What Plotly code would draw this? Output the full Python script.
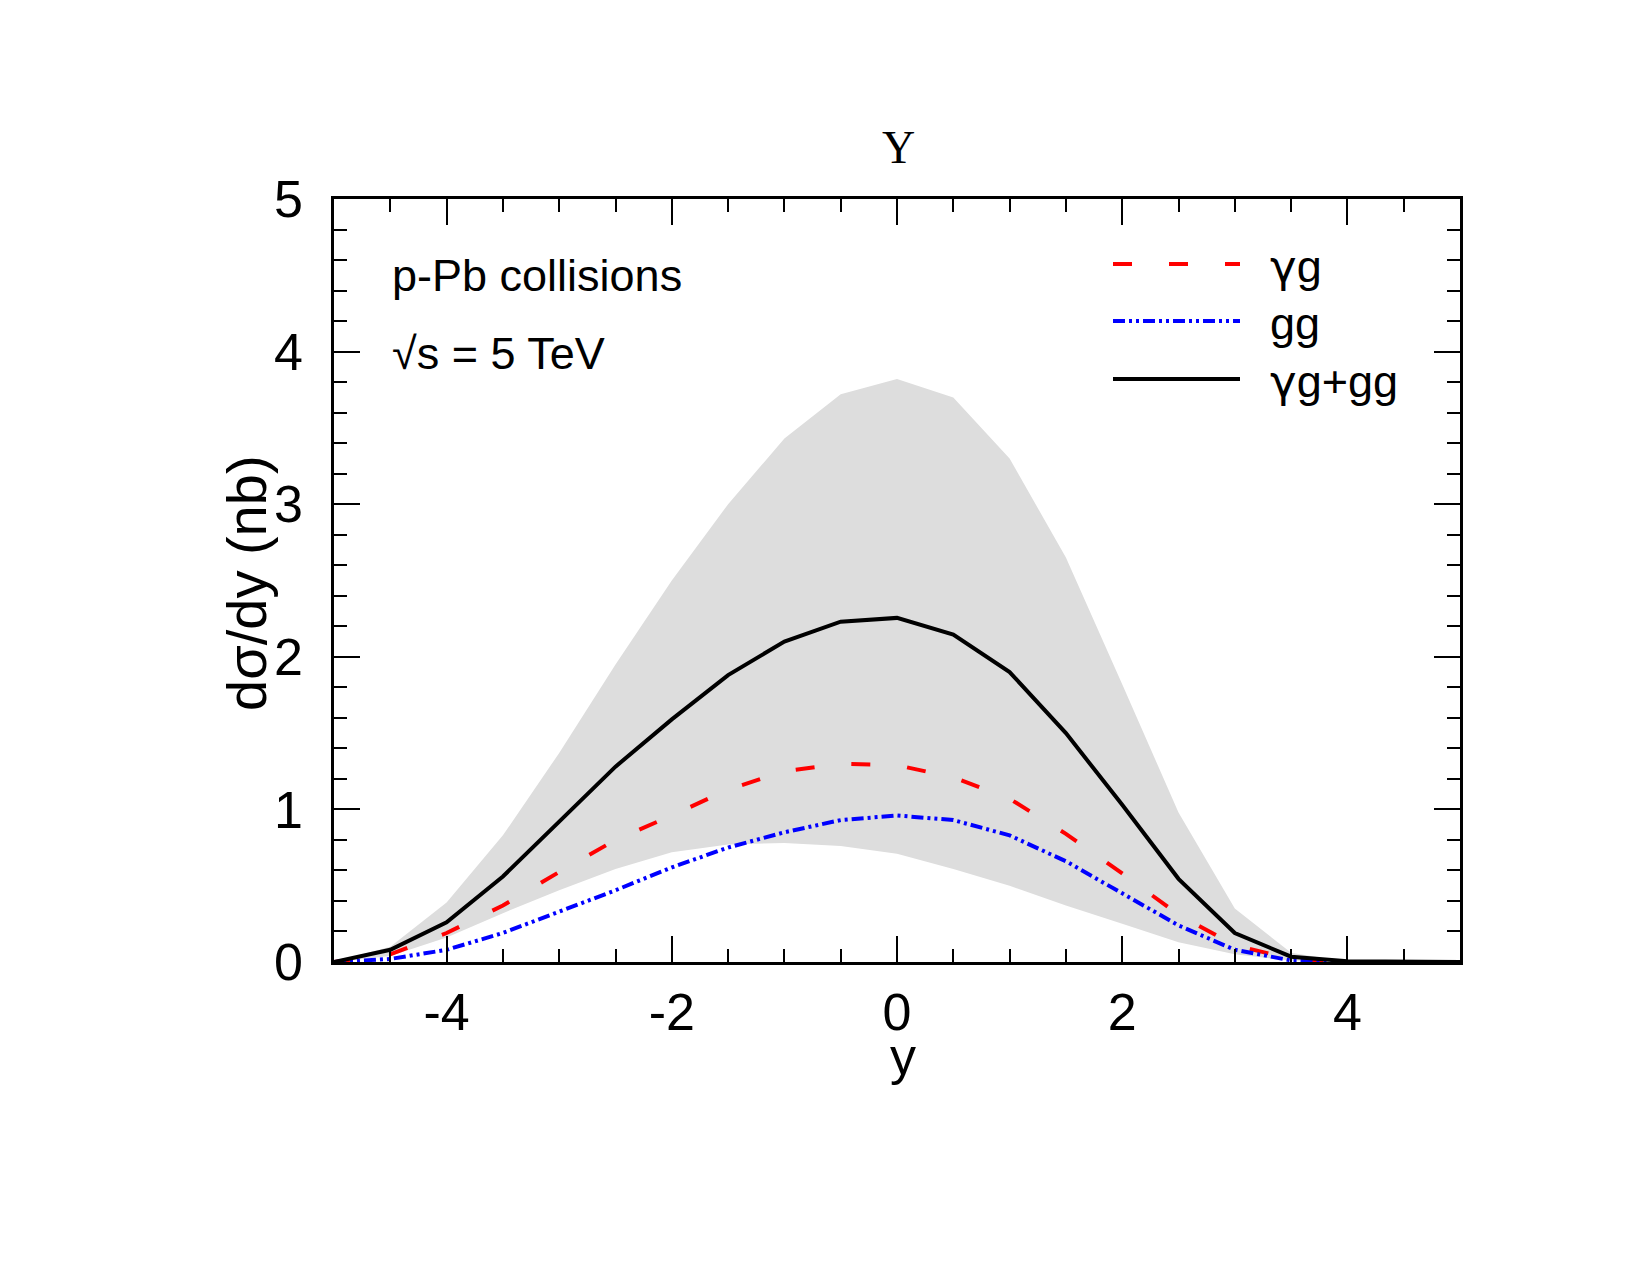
import plotly.graph_objects as go

# ---------------- data ----------------
y_rap = [-5.0, -4.5, -4.0, -3.5, -3.0, -2.5, -2.0, -1.5, -1.0, -0.5, 0.0,
         0.5, 1.0, 1.5, 2.0, 2.5, 3.0, 3.5, 4.0, 4.5, 5.0]
gamma_g = [0.0, 0.05, 0.19, 0.37, 0.59, 0.80, 0.96, 1.13, 1.25, 1.30, 1.29,
           1.21, 1.07, 0.84, 0.58, 0.31, 0.11, 0.02, 0.0, 0.0, 0.0]
g_g = [0.0, 0.02, 0.08, 0.19, 0.33, 0.47, 0.62, 0.75, 0.85, 0.93, 0.96,
       0.93, 0.83, 0.66, 0.45, 0.24, 0.08, 0.01, 0.0, 0.0, 0.0]
total = [0.0, 0.08, 0.26, 0.56, 0.92, 1.28, 1.59, 1.88, 2.10, 2.23, 2.255,
         2.145, 1.90, 1.50, 1.03, 0.545, 0.19, 0.035, 0.005, 0.0, 0.0]
band_upper = [0.0, 0.10, 0.39, 0.83, 1.37, 1.95, 2.50, 3.00, 3.43, 3.72, 3.82,
              3.70, 3.30, 2.65, 1.82, 0.98, 0.35, 0.06, 0.0, 0.0, 0.0]
band_lower = [0.0, 0.04, 0.16, 0.32, 0.47, 0.61, 0.72, 0.77, 0.78, 0.76, 0.71,
              0.61, 0.50, 0.37, 0.25, 0.13, 0.05, 0.01, 0.0, 0.0, 0.0]

x_tickvals = [-4, -2, 0, 2, 4]
x_ticktext = ["-4", "-2", "0", "2", "4"]
y_tickvals = [0, 1, 2, 3, 4, 5]
y_ticktext = ["0", "1", "2", "3", "4", "5"]

GAMMA = "<span style='font-family:DejaVu Sans'>γ</span>"
series_names = [GAMMA + "g", "gg", GAMMA + "g+gg"]

# ---------------- layout geometry ----------------
W, H = 1650, 1275
ML, MR, MT, MB = 334, 190, 199, 313
PW, PH = W - ML - MR, H - MT - MB


def px_x(px):
    return (px - ML) / PW


def px_y(py):
    return (MT + PH - py) / PH


FONT = "Liberation Sans, Arial, Helvetica, sans-serif"
SERIF = "Liberation Serif, Times New Roman, serif"

fig = go.Figure()

# uncertainty band
fig.add_trace(go.Scatter(x=y_rap, y=band_lower, mode="lines",
                         line=dict(width=0, color="rgba(0,0,0,0)"),
                         showlegend=False, hoverinfo="skip"))
fig.add_trace(go.Scatter(x=y_rap, y=band_upper, mode="lines", fill="tonexty",
                         fillcolor="rgb(221,221,221)",
                         line=dict(width=0, color="rgba(0,0,0,0)"),
                         showlegend=False, hoverinfo="skip"))

styles = [
    dict(color="rgb(255,0,0)", width=4, dash="19px,37px"),
    dict(color="rgb(0,0,255)", width=4, dash="12px,4px,3px,4px,3px,4px"),
    dict(color="black", width=4, dash="solid"),
]
for name, vals, st in zip(series_names, [gamma_g, g_g, total], styles):
    fig.add_trace(go.Scatter(x=y_rap, y=vals, mode="lines", name=name,
                             line=st, showlegend=False))

# ---------------- manual legend ----------------
leg_rows = [264, 321, 379]
shapes = []
annotations = []
for name, st, ry in zip(series_names, styles, leg_rows):
    shapes.append(dict(type="line", xref="paper", yref="paper",
                       x0=px_x(1113), x1=px_x(1240), y0=px_y(ry), y1=px_y(ry),
                       line=dict(color=st["color"], width=st["width"], dash=st["dash"])))
    annotations.append(dict(text=name, xref="paper", yref="paper",
                            x=px_x(1268), y=px_y(ry + 2), xanchor="left", yanchor="middle",
                            showarrow=False, font=dict(family=FONT, size=45, color="black")))

# text annotations
annotations += [
    dict(text="p-Pb collisions", xref="paper", yref="paper", x=px_x(390), y=px_y(276),
         xanchor="left", yanchor="middle", showarrow=False,
         font=dict(family=FONT, size=45, color="black")),
    dict(text="√s = 5 TeV", xref="paper", yref="paper", x=px_x(390), y=px_y(353),
         xanchor="left", yanchor="middle", showarrow=False,
         font=dict(family=FONT, size=45, color="black")),
    dict(text="Υ", xref="paper", yref="paper", x=px_x(898), y=px_y(148),
         xanchor="center", yanchor="middle", showarrow=False,
         font=dict(family=SERIF, size=46, color="black")),
    dict(text="y", xref="paper", yref="paper", x=px_x(903), y=px_y(1056),
         xanchor="center", yanchor="middle", showarrow=False,
         font=dict(family=FONT, size=52, color="black")),
    dict(text="dσ/dy (nb)", xref="paper", yref="paper", x=px_x(246), y=px_y(583),
         xanchor="center", yanchor="middle", textangle=-90, showarrow=False,
         font=dict(family=FONT, size=56, color="black")),
]

axis_common = dict(showgrid=False, zeroline=False, showline=True, linecolor="black",
                   linewidth=2.5, mirror="ticks", ticks="inside", ticklen=26,
                   tickwidth=2, tickcolor="black",
                   tickfont=dict(family=FONT, size=52, color="black"))

fig.update_layout(
    width=W, height=H,
    margin=dict(l=ML, r=MR, t=MT, b=MB, pad=0),
    paper_bgcolor="white", plot_bgcolor="white",
    showlegend=False,
    xaxis=dict(range=[-5, 5], tickmode="array", tickvals=x_tickvals, ticktext=x_ticktext,
               minor=dict(dtick=0.5, tick0=0, ticks="inside", ticklen=13, tickwidth=2,
                          tickcolor="black", showgrid=False),
               ticklabelstandoff=3, **axis_common),
    yaxis=dict(range=[0, 5], tickmode="array", tickvals=y_tickvals, ticktext=y_ticktext,
               minor=dict(dtick=0.2, tick0=0, ticks="inside", ticklen=13, tickwidth=2,
                          tickcolor="black", showgrid=False),
               ticklabelstandoff=18, **axis_common),
    shapes=shapes,
    annotations=annotations,
)

fig.write_html("out.html")
